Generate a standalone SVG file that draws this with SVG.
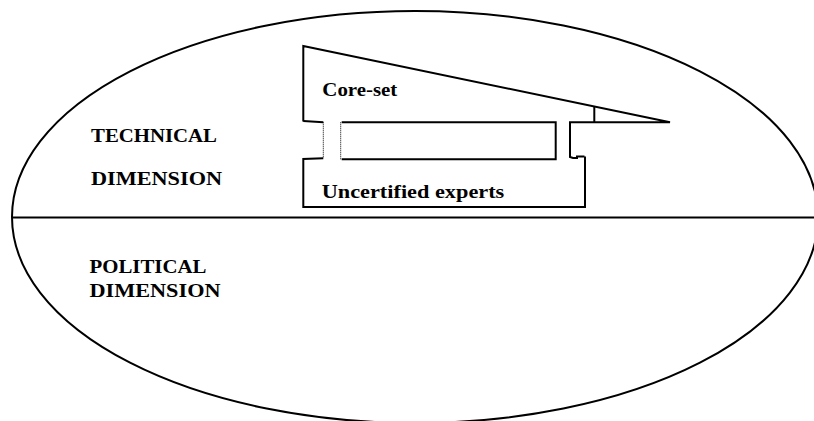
<svg xmlns="http://www.w3.org/2000/svg" width="814" height="421" viewBox="0 0 814 421">
<style>
.ln{fill:none;stroke:#000;stroke-width:2;stroke-linejoin:miter}
.dot{fill:none;stroke:#000;stroke-width:1;stroke-dasharray:1 1}
.t{font-family:'Liberation Serif','DejaVu Serif',serif;font-weight:700;font-size:19px;fill:#000}
</style>
<rect width="814" height="421" fill="#fff"/>
<g id="field">
<ellipse cx="415" cy="217" rx="403" ry="206" fill="none" stroke="#000" stroke-width="2"/>
<line x1="12" y1="217.5" x2="814" y2="217.5" stroke="#000" stroke-width="2.2"/>
</g>
<g id="technical-label">
<text class="t" x="91" y="141.7" textLength="126" lengthAdjust="spacingAndGlyphs">TECHNICAL</text>
<text class="t" x="91" y="185" textLength="131" lengthAdjust="spacingAndGlyphs">DIMENSION</text>
</g>
<g id="political-label">
<text class="t" x="89.5" y="273.3" textLength="117" lengthAdjust="spacingAndGlyphs">POLITICAL</text>
<text class="t" x="89.5" y="296.7" textLength="131" lengthAdjust="spacingAndGlyphs">DIMENSION</text>
</g>
<g id="core-set">
<path class="ln" d="M303.3,121.5 L303.3,46 L670,122.3 L570,122.3 L570,157 L573,158 L577,158 L577,156.5 L584.5,156.5"/>
<line class="ln" x1="594.3" y1="106.3" x2="594.3" y2="122.3"/>
<path class="ln" d="M303.3,121 L323.3,122.3"/>
<text class="t" x="322.3" y="95.7" textLength="75" lengthAdjust="spacingAndGlyphs">Core-set</text>
</g>
<g id="uncertified-experts">
<path class="ln" d="M323.3,158.3 L303.3,159 L303.3,207 L585,207 L585,156.5"/>
<text class="t" x="321.7" y="197.7" textLength="182.6" lengthAdjust="spacingAndGlyphs">Uncertified experts</text>
</g>
<g id="inner-box">
<path class="ln" d="M341.7,122.3 L555.7,122.3 L555.7,159.3 L341.7,159.3"/>
</g>
<g id="connectors">
<line class="dot" x1="323.3" y1="122.3" x2="323.3" y2="158.3"/>
<line class="dot" x1="340.7" y1="122.3" x2="340.7" y2="160"/>
</g>
</svg>
